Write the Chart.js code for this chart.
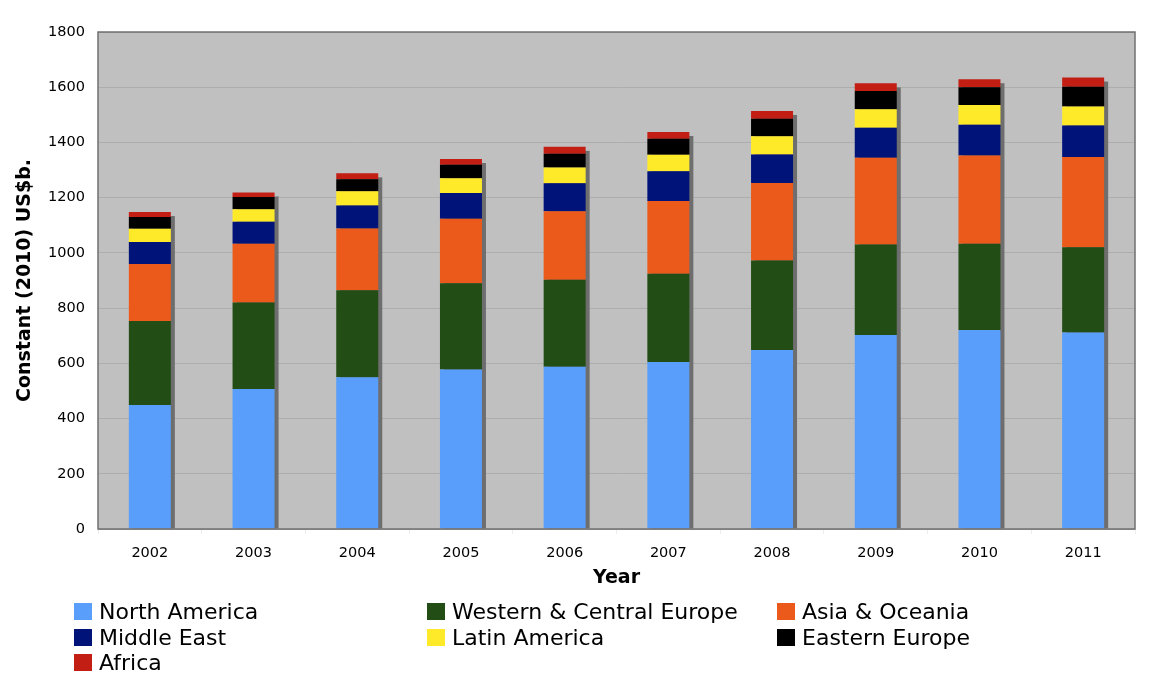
<!DOCTYPE html>
<html><head><meta charset="utf-8">
<script src="https://cdn.jsdelivr.net/npm/chart.js@4/dist/chart.umd.min.js"></script>
<style>
html,body{margin:0;padding:0;background:#fff;}
#wrap{position:relative;width:1162px;height:696px;}
#legend{position:absolute;left:74px;top:599px;display:grid;grid-template-columns:353px 350px 300px;row-gap:0px;font-family:"DejaVu Sans",sans-serif;font-size:22px;color:#000;}
.li{display:flex;align-items:center;height:25.5px;white-space:nowrap;}
.sw{width:18px;height:17px;margin-right:7px;flex:none;}
</style></head>
<body><div id="wrap"><canvas id="c" width="1162" height="696"></canvas><div id="legend"></div></div>
<script>
const years = ['2002','2003','2004','2005','2006','2007','2008','2009','2010','2011'];
const northAmerica = [449, 507, 550, 578, 588, 605, 648, 703, 721, 712];
const westernCentralEurope = [304, 313, 315, 312, 315, 319, 324, 327, 312, 308];
const asiaOceania = [207, 213, 223, 234, 248, 264, 281, 315, 320, 327];
const middleEast = [79, 80, 84, 93, 101, 108, 103, 108, 111, 114];
const latinAmerica = [48, 45, 51, 53, 57, 59, 66, 67, 72, 69];
const easternEurope = [43, 44, 44, 49, 50, 58, 64, 66, 64, 72];
const africa = [18, 17, 21, 21, 25, 25, 28, 28, 29, 33];
const seriesNames = ['North America','Western & Central Europe','Asia & Oceania','Middle East','Latin America','Eastern Europe','Africa'];
const seriesColors = ['#589EFA','#224D14','#EB5A1A','#001378','#FFEA2A','#000000','#C21E14'];
const seriesData = [northAmerica, westernCentralEurope, asiaOceania, middleEast, latinAmerica, easternEurope, africa];

const FONT = '"DejaVu Sans", sans-serif';

const bgPlugin = {
  id: 'bg',
  beforeDraw(chart) {
    const {ctx, chartArea: a} = chart;
    ctx.save();
    ctx.fillStyle = '#C0C0C0';
    ctx.fillRect(a.left, a.top, a.right - a.left, a.bottom - a.top);
    ctx.restore();
  },
  beforeDatasetsDraw(chart) {
    const {ctx} = chart;
    const n = chart.data.datasets.length;
    const first = chart.getDatasetMeta(0), last = chart.getDatasetMeta(n - 1);
    ctx.save();
    ctx.fillStyle = '#6E6E6E';
    last.data.forEach((bar, i) => {
      const base = first.data[i].base;
      const w = bar.width;
      ctx.fillRect(bar.x - w / 2 + 4, bar.y + 4, w, base - bar.y - 4);
    });
    ctx.restore();
  },
  afterDraw(chart) {
    const {ctx, chartArea: a} = chart;
    ctx.save();
    ctx.strokeStyle = '#707070';
    ctx.lineWidth = 1.5;
    ctx.strokeRect(a.left, a.top, a.right - a.left, a.bottom - a.top);
    ctx.restore();
  }
};

new Chart(document.getElementById('c'), {
  type: 'bar',
  data: {
    labels: years,
    datasets: seriesData.map((d, i) => ({
      label: seriesNames[i], data: d, backgroundColor: seriesColors[i],
      borderWidth: 0, barPercentage: 0.405, categoryPercentage: 1.0
    }))
  },
  options: {
    responsive: false, animation: false,
    layout: {padding: {left: 14, right: 27, top: 32, bottom: 107}},
    plugins: {legend: {display: false}, tooltip: {enabled: false}},
    scales: {
      x: {
        stacked: true,
        grid: {display: true, offset: true, drawOnChartArea: false, color: '#EDEDED', tickLength: 5},
        border: {display: false},
        ticks: {color: '#000', font: {family: FONT, size: 14.5}, padding: 11},
        title: {display: true, text: 'Year', color: '#000', font: {family: FONT, size: 19, weight: 'bold'}, padding: {top: 0, bottom: 0}},
        afterFit(s) { s.height = 60; }
      },
      y: {
        stacked: true, min: 0, max: 1800,
        grid: {color: '#ADADAD', lineWidth: 1, drawTicks: false},
        border: {display: false},
        ticks: {stepSize: 200, color: '#000', font: {family: FONT, size: 14.5}, padding: 13, callback: v => String(v)},
        title: {display: true, text: 'Constant (2010) US$b.', color: '#000', font: {family: FONT, size: 19, weight: 'bold'}, padding: {top: 0, bottom: 0}},
        afterFit(s) { s.width = 84; }
      }
    }
  },
  plugins: [bgPlugin]
});

const lg = document.getElementById('legend');
seriesNames.forEach((n, i) => {
  const d = document.createElement('div'); d.className = 'li';
  const s = document.createElement('span'); s.className = 'sw'; s.style.background = seriesColors[i];
  const t = document.createElement('span'); t.textContent = n;
  d.appendChild(s); d.appendChild(t); lg.appendChild(d);
});
</script></body></html>
